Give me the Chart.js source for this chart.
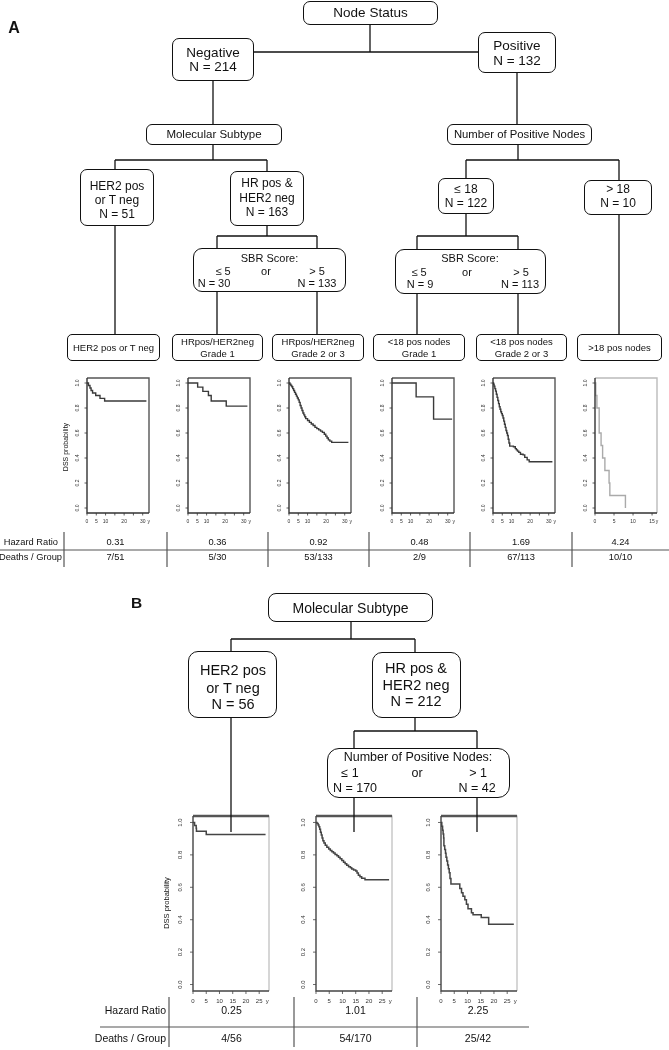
<!DOCTYPE html>
<html>
<head>
<meta charset="utf-8">
<script src="https://cdn.jsdelivr.net/npm/chart.js@4.4.1/dist/chart.umd.min.js"></script>
<style>
html, body { margin: 0; padding: 0; background: #fff; }
#page { position: relative; width: 669px; height: 1050px; overflow: hidden; font-family: 'Liberation Sans', Arial, sans-serif; color: #111; }
.box { position: absolute; border: 1.3px solid #111; box-sizing: border-box; background: #fff; }
.t { position: absolute; white-space: nowrap; line-height: 1; }
svg { position: absolute; left: 0; top: 0; }
</style>
</head>
<body>
<div id="page"></div>
<script>
// Kaplan-Meier curves: event times (years) and survival after each event
const a1Time = [0.8, 1.6, 2.2, 3.0, 4.7, 7.0, 9.5];
const a1Surv = [0.98, 0.96, 0.94, 0.92, 0.90, 0.877, 0.856];
const a1End = 32;
const a2Time = [5.2, 8.0, 11.0, 12.5, 20.6];
const a2Surv = [0.967, 0.933, 0.90, 0.856, 0.815];
const a2End = 32;
const a3Time = [0.5, 1.0, 1.5, 2.0, 2.5, 3.0, 3.5, 4.0, 4.5, 5.0, 5.5, 6.0, 6.5, 7.0, 7.5, 8.0, 8.5, 9.0, 10.0, 11.0, 12.0, 13.0, 14.0, 15.0, 16.0, 17.0, 18.0, 19.0, 19.8, 20.5, 21.2, 22.0, 23.0];
const a3Surv = [0.99, 0.98, 0.97, 0.955, 0.94, 0.925, 0.91, 0.895, 0.88, 0.865, 0.845, 0.82, 0.80, 0.78, 0.76, 0.745, 0.73, 0.715, 0.70, 0.685, 0.672, 0.66, 0.645, 0.635, 0.625, 0.615, 0.605, 0.59, 0.575, 0.56, 0.545, 0.535, 0.525];
const a3End = 32;
const a4Time = [13.0, 22.4];
const a4Surv = [0.889, 0.711];
const a4End = 32.4;
const a5Time = [0.3, 0.6, 1.0, 1.4, 1.8, 2.2, 2.6, 3.0, 3.4, 3.8, 4.2, 4.6, 5.0, 5.4, 5.8, 6.2, 6.6, 7.0, 7.4, 7.8, 8.2, 8.6, 9.0, 11.0, 12.0, 12.6, 13.2, 13.9, 14.8, 16.2, 17.1, 18.4, 19.5];
const a5Surv = [0.99, 0.975, 0.955, 0.935, 0.91, 0.885, 0.86, 0.835, 0.81, 0.79, 0.77, 0.755, 0.74, 0.72, 0.695, 0.67, 0.645, 0.62, 0.60, 0.58, 0.55, 0.52, 0.495, 0.49, 0.475, 0.465, 0.455, 0.445, 0.43, 0.425, 0.405, 0.385, 0.37];
const a5End = 32;
const a6Time = [0.2, 0.5, 1.1, 1.1, 1.6, 2.0, 2.6, 3.7, 3.9, 8.0];
const a6Surv = [0.9, 0.8, 0.7, 0.6, 0.5, 0.4, 0.3, 0.2, 0.1, 0.0];
const a6End = 8.0;

const b1Time = [0.6, 1.2, 1.3, 5.0];
const b1Surv = [0.982, 0.964, 0.946, 0.926];
const b1End = 27.4;
const b2Time = [0.4, 0.8, 1.1, 1.4, 1.7, 2.0, 2.3, 2.6, 3.0, 3.5, 4.1, 4.8, 5.4, 6.0, 6.6, 7.2, 7.9, 8.5, 9.1, 9.75, 10.4, 11.0, 11.6, 12.3, 13.0, 13.5, 14.2, 15.0, 15.5, 16.0, 16.6, 17.25, 18.5];
const b2Surv = [0.994, 0.985, 0.973, 0.958, 0.94, 0.922, 0.905, 0.888, 0.874, 0.86, 0.847, 0.836, 0.827, 0.819, 0.811, 0.803, 0.795, 0.786, 0.776, 0.765, 0.755, 0.745, 0.736, 0.727, 0.72, 0.713, 0.706, 0.70, 0.688, 0.675, 0.665, 0.656, 0.646];
const b2End = 27.6;
const b3Time = [0.3, 0.6, 0.8, 1.0, 1.1, 1.4, 1.7, 1.9, 2.2, 2.5, 2.8, 3.1, 3.4, 3.75, 7.1, 7.75, 8.3, 9.0, 9.6, 10.2, 11.5, 12.1, 15.2, 18.0];
const b3Surv = [0.976, 0.952, 0.929, 0.905, 0.857, 0.833, 0.81, 0.786, 0.762, 0.738, 0.714, 0.69, 0.655, 0.62, 0.593, 0.567, 0.545, 0.523, 0.495, 0.468, 0.443, 0.43, 0.413, 0.372];
const b3End = 27.5;

// axes
const yTickVals = [0, 0.2, 0.4, 0.6, 0.8, 1.0];
const xTicksA = [0, 5, 10, 15, 20, 25, 30];
const xLabelsA = [0, 5, 10, 20, 30];
const xTicksA6 = [0, 5, 10, 15];
const xTicksB = [0, 5, 10, 15, 20, 25];
const xMaxA = 33.4, xMaxA6 = 16.3, xMaxB = 28.7;

// table rows
const hazardA = ['0.31', '0.36', '0.92', '0.48', '1.69', '4.24'];
const deathsA = ['7/51', '5/30', '53/133', '2/9', '67/113', '10/10'];
const hazardB = ['0.25', '1.01', '2.25'];
const deathsB = ['4/56', '54/170', '25/42'];

const page = document.getElementById('page');
const FONT = '"Liberation Sans", Arial, sans-serif';

function kmPoints(times, surv, end) {
    const pts = [{ x: 0, y: 1 }];
    times.forEach((t, i) => pts.push({ x: t, y: surv[i] }));
    pts.push({ x: end, y: surv[surv.length - 1] });
    return pts;
}

// R-style box, ticks and rotated y labels
const rAxes = {
    id: 'rAxes',
    afterDatasetsDraw(chart, args, o) {
        const { ctx, chartArea: a, scales: { x, y } } = chart;
        ctx.save();
        ctx.strokeStyle = o.frame;
        ctx.lineWidth = o.frameW;
        ctx.beginPath();
        ctx.moveTo(a.left, a.top);
        ctx.lineTo(a.right, a.top);
        ctx.lineTo(a.right, a.bottom);
        ctx.stroke();
        if (o.topW) {
            ctx.strokeStyle = o.topColor;
            ctx.lineWidth = o.topW;
            ctx.beginPath();
            ctx.moveTo(a.left, a.top);
            ctx.lineTo(a.right, a.top);
            ctx.stroke();
        }
        ctx.strokeStyle = o.axis;
        ctx.lineWidth = o.axisW;
        ctx.beginPath();
        ctx.moveTo(a.left, a.top);
        ctx.lineTo(a.left, a.bottom);
        ctx.lineTo(a.right, a.bottom);
        ctx.stroke();

        ctx.lineWidth = 0.8;
        ctx.fillStyle = '#333';
        ctx.font = o.fs + 'px ' + FONT;
        ctx.textAlign = 'center';
        ctx.textBaseline = 'middle';
        yTickVals.forEach(v => {
            const py = y.getPixelForValue(v);
            ctx.beginPath();
            ctx.moveTo(a.left - o.tick, py);
            ctx.lineTo(a.left, py);
            ctx.stroke();
            ctx.save();
            ctx.translate(a.left - o.yOff, py);
            ctx.rotate(-Math.PI / 2);
            ctx.fillText(v.toFixed(1), 0, 0);
            ctx.restore();
        });
        o.xTicks.forEach(v => {
            const px = x.getPixelForValue(v);
            ctx.beginPath();
            ctx.moveTo(px, a.bottom);
            ctx.lineTo(px, a.bottom + o.tick);
            ctx.stroke();
            if (o.xLabels.includes(v)) ctx.fillText(String(v), px, a.bottom + o.xOff);
        });
        const last = o.xLabels[o.xLabels.length - 1];
        ctx.fillText('y', x.getPixelForValue(last) + o.yUnit, a.bottom + o.xOff + 0.5);
        ctx.restore();
    }
};

function drawKM(left, top, w, h, pts, xmax, curve, lw, axes) {
    const PL = 20, PT = 3, PR = 10, PB = 15;
    const W = w + PL + PR, H = h + PT + PB;
    const cv = document.createElement('canvas');
    cv.width = W;
    cv.height = H;
    cv.style.cssText = `position:absolute;left:${left - PL}px;top:${top - PT}px;width:${W}px;height:${H}px`;
    page.appendChild(cv);
    new Chart(cv, {
        type: 'line',
        data: { datasets: [{ data: pts, stepped: true, borderColor: curve, borderWidth: lw, pointRadius: 0, fill: false }] },
        options: {
            responsive: false,
            animation: false,
            events: [],
            layout: { padding: { left: PL, top: PT, right: PR, bottom: PB } },
            scales: {
                x: { type: 'linear', min: 0, max: xmax, display: false },
                y: { min: -0.04, max: 1.04, display: false }
            },
            plugins: { legend: { display: false }, tooltip: { enabled: false }, rAxes: axes }
        },
        plugins: [rAxes]
    });
}

// Panel A survival plots
const axA = { fs: 5, tick: 2.5, yOff: 9.5, xOff: 8.5, yUnit: 6, frame: '#555', frameW: 1.4, axis: '#333', axisW: 1.4, xTicks: xTicksA, xLabels: xLabelsA };
const axA6 = Object.assign({}, axA, { frame: '#bbb', xTicks: xTicksA6, xLabels: xTicksA6, yUnit: 5 });
const leftA = [87, 188, 289, 392, 493, 595];
drawKM(leftA[0], 378, 62, 135, kmPoints(a1Time, a1Surv, a1End), xMaxA, '#3a3a3a', 1.4, axA);
drawKM(leftA[1], 378, 62, 135, kmPoints(a2Time, a2Surv, a2End), xMaxA, '#3a3a3a', 1.4, axA);
drawKM(leftA[2], 378, 62, 135, kmPoints(a3Time, a3Surv, a3End), xMaxA, '#3a3a3a', 1.4, axA);
drawKM(leftA[3], 378, 62, 135, kmPoints(a4Time, a4Surv, a4End), xMaxA, '#3a3a3a', 1.4, axA);
drawKM(leftA[4], 378, 62, 135, kmPoints(a5Time, a5Surv, a5End), xMaxA, '#3a3a3a', 1.4, axA);
drawKM(leftA[5], 378, 62, 135, kmPoints(a6Time, a6Surv, a6End), xMaxA6, '#aaa', 1.4, axA6);

// Panel B survival plots
const axB = { fs: 6, tick: 3, yOff: 12.5, xOff: 10, yUnit: 8, frame: '#bbb', frameW: 1.2, topColor: '#555', topW: 2.5, axis: '#444', axisW: 1.4, xTicks: xTicksB, xLabels: xTicksB };
const leftB = [193, 316, 441];
drawKM(leftB[0], 816, 76, 175, kmPoints(b1Time, b1Surv, b1End), xMaxB, '#444', 1.5, axB);
drawKM(leftB[1], 816, 76, 175, kmPoints(b2Time, b2Surv, b2End), xMaxB, '#444', 1.5, axB);
drawKM(leftB[2], 816, 76, 175, kmPoints(b3Time, b3Surv, b3End), xMaxB, '#444', 1.5, axB);

// connector lines
const treeLines = [
    [370, 25, 370, 52], [254, 52, 478, 52], [213, 81, 213, 124], [517, 73, 517, 124],
    [213, 145, 213, 160], [115, 160, 267, 160], [115, 160, 115, 169], [267, 160, 267, 171],
    [518, 145, 518, 160], [466, 160, 619, 160], [466, 160, 466, 178], [619, 160, 619, 180],
    [115, 226, 115, 334],
    [267, 226, 267, 236], [217, 236, 317, 236], [217, 236, 217, 248], [317, 236, 317, 248],
    [217, 292, 217, 334], [317, 292, 317, 334],
    [466, 214, 466, 236], [417, 236, 518, 236], [417, 236, 417, 249], [518, 236, 518, 249],
    [417, 294, 417, 334], [518, 294, 518, 334],
    [619, 215, 619, 334],
    [351, 622, 351, 639], [231, 639, 415, 639], [231, 639, 231, 651], [415, 639, 415, 652],
    [231, 718, 231, 832],
    [415, 718, 415, 731], [354, 731, 477, 731], [354, 731, 354, 748], [477, 731, 477, 748],
    [354, 798, 354, 832], [477, 798, 477, 832]
];
const tableLines = [[0, 550, 669, 550], [100, 1027, 529, 1027]];
[64, 167, 268, 369, 470, 572].forEach(x => tableLines.push([x, 532, x, 567]));
[169, 294, 417].forEach(x => tableLines.push([x, 997, x, 1047]));

const NS = 'http://www.w3.org/2000/svg';
const svg = document.createElementNS(NS, 'svg');
svg.setAttribute('width', 669);
svg.setAttribute('height', 1050);
page.appendChild(svg);
function addLines(list, color, width) {
    list.forEach(([x1, y1, x2, y2]) => {
        const l = document.createElementNS(NS, 'line');
        l.setAttribute('x1', x1); l.setAttribute('y1', y1);
        l.setAttribute('x2', x2); l.setAttribute('y2', y2);
        l.setAttribute('stroke', color);
        l.setAttribute('stroke-width', width);
        svg.appendChild(l);
    });
}
addLines(treeLines, '#111', 1.3);
addLines(tableLines, '#555', 1.2);

// boxes: x1, y1, x2, y2, radius
const boxes = [
    [303, 1, 438, 25, 7], [172, 38, 254, 81, 7], [478, 32, 556, 73, 7],
    [146, 124, 282, 145, 6], [447, 124, 592, 145, 6],
    [80, 169, 154, 226, 7], [230, 171, 304, 226, 7], [438, 178, 494, 214, 7], [584, 180, 652, 215, 7],
    [193, 248, 346, 292, 9], [395, 249, 546, 294, 9],
    [67, 334, 160, 361, 5], [172, 334, 263, 361, 5], [272, 334, 364, 361, 5],
    [373, 334, 465, 361, 5], [476, 334, 567, 361, 5], [577, 334, 662, 361, 5],
    [268, 593, 433, 622, 8], [188, 651, 277, 718, 10], [372, 652, 461, 718, 10], [327, 748, 510, 798, 12]
];
boxes.forEach(([x1, y1, x2, y2, r]) => {
    const d = document.createElement('div');
    d.className = 'box';
    d.style.cssText = `left:${x1}px;top:${y1}px;width:${x2 - x1}px;height:${y2 - y1}px;border-radius:${r}px`;
    page.appendChild(d);
});

// text: string, x, y, size, anchor
function txt(s, x, y, size, anchor, extra) {
    const d = document.createElement('div');
    d.className = 't';
    d.textContent = s;
    const tx = anchor === 'right' ? '-100%' : '-50%';
    d.style.cssText = `left:${x}px;top:${y}px;font-size:${size}px;transform:translate(${tx},-50%)${extra || ''}`;
    page.appendChild(d);
    return d;
}
txt('A', 14, 27.5, 16).style.fontWeight = 'bold';
txt('B', 136.5, 602.5, 15.5).style.fontWeight = 'bold';

const labelsA = [
    ['Node Status', 370.5, 13, 13.5],
    ['Negative', 213, 53, 13.5], ['N = 214', 213, 67, 13.5],
    ['Positive', 517, 46, 13.5], ['N = 132', 517, 61, 13.5],
    ['Molecular Subtype', 214, 134.5, 11.5], ['Number of Positive Nodes', 519.5, 134.5, 11.3],
    ['HER2 pos', 117, 186, 12], ['or T neg', 117, 200, 12], ['N = 51', 117, 213.5, 12],
    ['HR pos &', 267, 183, 12], ['HER2 neg', 267, 198, 12], ['N = 163', 267, 212, 12],
    ['\u2264 18', 466, 189, 12], ['N = 122', 466, 203, 12],
    ['> 18', 618, 189, 12], ['N = 10', 618, 203, 12],
    ['SBR Score:', 269.5, 258, 11], ['\u2264 5', 223, 271, 11], ['or', 266, 271, 11], ['> 5', 317, 271, 11],
    ['N = 30', 214, 283, 11], ['N = 133', 317, 283, 11],
    ['SBR Score:', 470, 258, 11], ['\u2264 5', 419, 272, 11], ['or', 467, 272, 11], ['> 5', 521, 272, 11],
    ['N = 9', 420, 284, 11], ['N = 113', 520, 284, 11],
    ['HER2 pos or T neg', 113.5, 347.5, 9.5],
    ['HRpos/HER2neg', 217.5, 342, 9.5], ['Grade 1', 217.5, 353.5, 9.5],
    ['HRpos/HER2neg', 318, 342, 9.5], ['Grade 2 or 3', 318, 353.5, 9.5],
    ['<18 pos nodes', 419, 342, 9.5], ['Grade 1', 419, 353.5, 9.5],
    ['<18 pos nodes', 521.5, 342, 9.5], ['Grade 2 or 3', 521.5, 353.5, 9.5],
    ['>18 pos nodes', 619.5, 347.5, 9.5]
];
labelsA.forEach(([s, x, y, f]) => txt(s, x, y, f));

const labelsB = [
    ['Molecular Subtype', 350.5, 608, 14],
    ['HER2 pos', 233, 670, 14.5], ['or T neg', 233, 687.5, 14.5], ['N = 56', 233, 704, 14.5],
    ['HR pos &', 416, 668, 14.5], ['HER2 neg', 416, 684.5, 14.5], ['N = 212', 416, 701, 14.5],
    ['Number of Positive Nodes:', 418, 757, 12.5],
    ['\u2264 1', 350, 773, 12.5], ['or', 417, 773, 12.5], ['> 1', 478, 773, 12.5],
    ['N = 170', 355, 788, 12.5], ['N = 42', 477, 788, 12.5]
];
labelsB.forEach(([s, x, y, f]) => txt(s, x, y, f));

txt('DSS probability', 65, 447, 7, 'center', ' rotate(-90deg)');
txt('DSS probability', 167, 903, 7.5, 'center', ' rotate(-90deg)');

// tables
const colA = [64, 167, 268, 369, 470, 572, 669];
txt('Hazard Ratio', 58, 543, 9.3, 'right');
txt('Deaths / Group', 62, 558, 9.3, 'right');
hazardA.forEach((v, i) => txt(v, (colA[i] + colA[i + 1]) / 2, 543, 9.3));
deathsA.forEach((v, i) => txt(v, (colA[i] + colA[i + 1]) / 2, 558, 9.3));

const colB = [169, 294, 417, 539];
txt('Hazard Ratio', 166, 1010, 10.5, 'right');
txt('Deaths / Group', 166, 1038, 10.5, 'right');
hazardB.forEach((v, i) => txt(v, (colB[i] + colB[i + 1]) / 2, 1010, 10.5));
deathsB.forEach((v, i) => txt(v, (colB[i] + colB[i + 1]) / 2, 1038, 10.5));
</script>
</body>
</html>
